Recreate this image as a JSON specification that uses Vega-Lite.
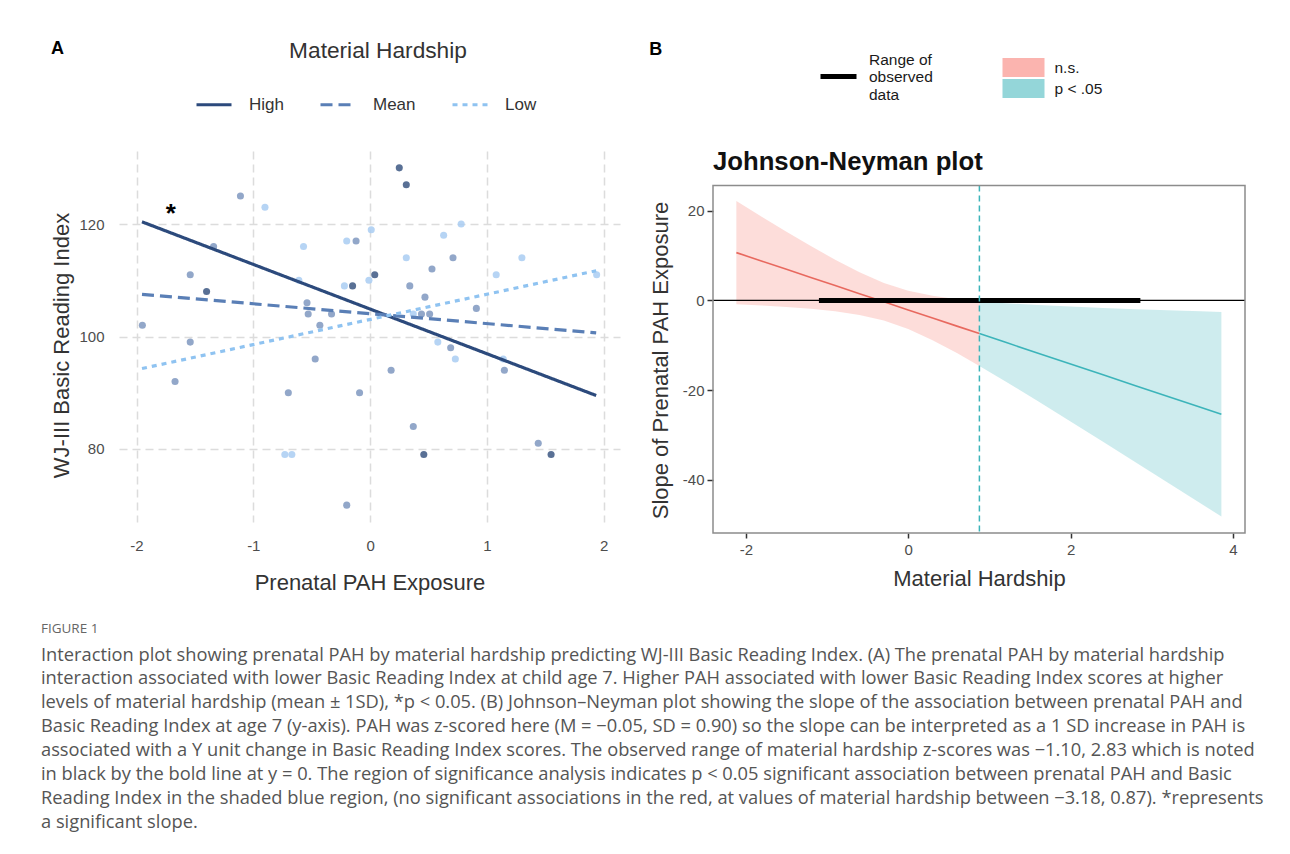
{
  "$schema": "https://vega.github.io/schema/vega-lite/v6.json",
  "background": "white",
  "padding": {"top": 40, "left": 40, "right": 0, "bottom": 0},
  "config": {
    "font": "Liberation Sans",
    "view": {"stroke": null},
    "axis": {"labelFont": "Liberation Sans", "titleFont": "Liberation Sans", "labelColor": "#4d4d4d", "titleColor": "#333333", "labelFontSize": 15, "titleFontSize": 22, "titleFontWeight": "normal"},
    "legend": {"labelFont": "Liberation Sans", "titleFont": "Liberation Sans"}
  },
  "spacing": 29,
  "resolve": {
    "scale": {"color": "independent", "fill": "independent", "stroke": "independent", "strokeDash": "independent"},
    "legend": {"color": "independent", "fill": "independent", "stroke": "independent", "strokeDash": "independent"}
  },
  "title": {
    "text": "FIGURE 1",
    "subtitle": [
      "Interaction plot showing prenatal PAH by material hardship predicting WJ-III Basic Reading Index. (A) The prenatal PAH by material hardship",
      "interaction associated with lower Basic Reading Index at child age 7. Higher PAH associated with lower Basic Reading Index scores at higher",
      "levels of material hardship (mean ± 1SD), *p < 0.05. (B) Johnson–Neyman plot showing the slope of the association between prenatal PAH and",
      "Basic Reading Index at age 7 (y-axis). PAH was z-scored here (M = −0.05, SD = 0.90) so the slope can be interpreted as a 1 SD increase in PAH is",
      "associated with a Y unit change in Basic Reading Index scores. The observed range of material hardship z-scores was −1.10, 2.83 which is noted",
      "in black by the bold line at y = 0. The region of significance analysis indicates p < 0.05 significant association between prenatal PAH and Basic",
      "Reading Index in the shaded blue region, (no significant associations in the red, at values of material hardship between −3.18, 0.87). *represents",
      "a significant slope."
    ],
    "orient": "bottom",
    "anchor": "start",
    "offset": 29,
    "dx": -10,
    "font": "Open Sans",
    "fontSize": 13.5,
    "fontWeight": "normal",
    "color": "#666666",
    "subtitleFont": "Open Sans",
    "subtitleFontSize": 18.3,
    "subtitleColor": "#555555",
    "subtitleLineHeight": 23.9,
    "subtitlePadding": 11
  },
  "datasets": {
    "pointsA": [
      {"x": 0.25, "y": 130, "g": "High"}, {"x": 0.31, "y": 127, "g": "High"}, {"x": -1.11, "y": 125, "g": "Mean"},
      {"x": -0.90, "y": 123, "g": "Low"}, {"x": 0.01, "y": 119, "g": "Low"}, {"x": 0.78, "y": 120, "g": "Low"},
      {"x": 0.63, "y": 118, "g": "Low"}, {"x": -0.20, "y": 117, "g": "Low"}, {"x": -0.12, "y": 117, "g": "Mean"},
      {"x": -1.34, "y": 116, "g": "Mean"}, {"x": -0.57, "y": 116, "g": "Low"}, {"x": 0.31, "y": 114, "g": "Low"},
      {"x": 0.71, "y": 114, "g": "Mean"}, {"x": 1.30, "y": 114, "g": "Low"}, {"x": 0.53, "y": 112, "g": "Mean"},
      {"x": -1.54, "y": 111, "g": "Mean"}, {"x": 0.04, "y": 111, "g": "High"}, {"x": 1.08, "y": 111, "g": "Low"},
      {"x": 1.94, "y": 111, "g": "Low"}, {"x": -0.01, "y": 110, "g": "Low"}, {"x": -0.61, "y": 110, "g": "Low"},
      {"x": -0.22, "y": 109, "g": "Low"}, {"x": -0.15, "y": 109, "g": "High"}, {"x": 0.34, "y": 109, "g": "Mean"},
      {"x": -1.40, "y": 108, "g": "High"}, {"x": 0.47, "y": 107, "g": "Mean"}, {"x": -0.54, "y": 106, "g": "Mean"},
      {"x": 0.91, "y": 105, "g": "Mean"}, {"x": -0.53, "y": 104, "g": "Mean"}, {"x": -0.33, "y": 104, "g": "Mean"},
      {"x": 0.37, "y": 104, "g": "Low"}, {"x": 0.44, "y": 104, "g": "Mean"}, {"x": 0.51, "y": 104, "g": "Mean"},
      {"x": -1.95, "y": 102, "g": "Mean"}, {"x": -0.43, "y": 102, "g": "Mean"}, {"x": -1.54, "y": 99, "g": "Mean"},
      {"x": 0.58, "y": 99, "g": "Low"}, {"x": 0.69, "y": 98, "g": "Mean"}, {"x": -0.47, "y": 96, "g": "Mean"},
      {"x": 0.73, "y": 96, "g": "Low"}, {"x": 1.14, "y": 96, "g": "Low"}, {"x": 0.18, "y": 94, "g": "Mean"},
      {"x": 1.15, "y": 94, "g": "Mean"}, {"x": -1.67, "y": 92, "g": "Mean"}, {"x": -0.70, "y": 90, "g": "Mean"},
      {"x": -0.09, "y": 90, "g": "Mean"}, {"x": 0.37, "y": 84, "g": "Mean"}, {"x": 1.44, "y": 81, "g": "Mean"},
      {"x": -0.73, "y": 79, "g": "Low"}, {"x": -0.67, "y": 79, "g": "Low"}, {"x": 0.46, "y": 79, "g": "High"},
      {"x": 1.55, "y": 79, "g": "High"}, {"x": -0.20, "y": 70, "g": "Mean"}
    ],
    "linesA": [
      {"x": -1.953, "y": 120.4, "g": "High"}, {"x": 1.936, "y": 89.5, "g": "High"},
      {"x": -1.953, "y": 107.5, "g": "Mean"}, {"x": 1.936, "y": 100.65, "g": "Mean"},
      {"x": -1.953, "y": 94.3, "g": "Low"}, {"x": 1.936, "y": 111.7, "g": "Low"}
    ],
    "jn": [
      {"x": -2.117, "est": 10.65, "lo": -0.85, "hi": 22.15, "sig": "n.s."},
      {"x": -1.8, "est": 8.74, "lo": -1.14, "hi": 18.62, "sig": "n.s."},
      {"x": -1.5, "est": 6.93, "lo": -1.47, "hi": 15.33, "sig": "n.s."},
      {"x": -1.2, "est": 5.12, "lo": -1.88, "hi": 12.12, "sig": "n.s."},
      {"x": -0.9, "est": 3.31, "lo": -2.44, "hi": 9.06, "sig": "n.s."},
      {"x": -0.6, "est": 1.50, "lo": -3.25, "hi": 6.25, "sig": "n.s."},
      {"x": -0.3, "est": -0.31, "lo": -4.51, "hi": 3.89, "sig": "n.s."},
      {"x": 0.0, "est": -2.12, "lo": -6.39, "hi": 2.15, "sig": "n.s."},
      {"x": 0.3, "est": -3.93, "lo": -8.87, "hi": 1.01, "sig": "n.s."},
      {"x": 0.6, "est": -5.74, "lo": -11.75, "hi": 0.27, "sig": "n.s."},
      {"x": 0.877, "est": -7.41, "lo": -14.61, "hi": -0.21, "sig": "n.s."},
      {"x": 0.877, "est": -7.41, "lo": -14.61, "hi": -0.21, "sig": "p < .05"},
      {"x": 1.2, "est": -9.36, "lo": -18.08, "hi": -0.64, "sig": "p < .05"},
      {"x": 1.6, "est": -11.77, "lo": -22.50, "hi": -1.05, "sig": "p < .05"},
      {"x": 2.0, "est": -14.19, "lo": -26.99, "hi": -1.39, "sig": "p < .05"},
      {"x": 2.4, "est": -16.60, "lo": -31.52, "hi": -1.68, "sig": "p < .05"},
      {"x": 2.8, "est": -19.01, "lo": -36.07, "hi": -1.95, "sig": "p < .05"},
      {"x": 3.2, "est": -21.43, "lo": -40.65, "hi": -2.21, "sig": "p < .05"},
      {"x": 3.6, "est": -23.84, "lo": -45.23, "hi": -2.45, "sig": "p < .05"},
      {"x": 3.858, "est": -25.40, "lo": -48.20, "hi": -2.60, "sig": "p < .05"}
    ],
    "rangeB": [{"lo": -1.10, "hi": 2.86, "y": 0, "what": "Range of observed data"}],
    "boundB": [{"x": 0.877}]
  },
  "hconcat": [
    {
      "width": 501,
      "height": 371,
      "title": {"text": "A", "anchor": "start", "font": "Liberation Sans", "fontSize": 18, "fontWeight": "bold", "color": "#000000", "offset": -18},
      "layer": [
        {
          "data": {"name": "pointsA"},
          "mark": {"type": "circle", "size": 50, "opacity": 0.85},
          "encoding": {
            "x": {"field": "x", "type": "quantitative", "scale": {"domain": [-2.15, 2.14], "nice": false, "zero": false},
              "axis": {"values": [-2, -1, 0, 1, 2], "title": "Prenatal PAH Exposure", "domain": false, "ticks": false, "tickSize": 0, "labelPadding": 16, "titlePadding": 19, "grid": true, "gridDash": [8, 5], "gridColor": "#dcdcdc", "gridWidth": 1.5, "labelExpr": "datum.value + ''"}},
            "y": {"field": "y", "type": "quantitative", "scale": {"domain": [67, 133], "nice": false, "zero": false},
              "axis": {"values": [80, 100, 120], "title": "WJ-III Basic Reading Index", "domain": false, "ticks": false, "tickSize": 0, "labelPadding": 15, "titlePadding": 5, "grid": true, "gridDash": [8, 5], "gridColor": "#dcdcdc", "gridWidth": 1.5, "titleY": 194}},
            "fill": {"field": "g", "type": "nominal", "scale": {"domain": ["Low", "Mean", "High"], "range": ["#a9cdf2", "#7f98c0", "#3c5783"]}, "legend": null}
          }
        },
        {
          "data": {"name": "linesA"},
          "mark": {"type": "line", "strokeWidth": 3.2},
          "encoding": {
            "x": {"field": "x", "type": "quantitative"},
            "y": {"field": "y", "type": "quantitative"},
            "color": {"field": "g", "type": "nominal", "scale": {"domain": ["High", "Mean", "Low"], "range": ["#2c4a7c", "#5a7fb6", "#8fc3f1"]},
              "legend": {"title": "Material Hardship", "orient": "none", "legendX": 76, "legendY": -111, "direction": "horizontal", "columns": 3, "titleAnchor": "middle", "titleFontSize": 22.7, "titleFontWeight": "normal", "titleColor": "#333333", "titlePadding": 23, "labelFontSize": 17, "labelColor": "#333333", "labelOffset": 16, "columnPadding": 30, "symbolType": "stroke", "symbolSize": 1225, "symbolStrokeWidth": 3,
                "encode": {"title": {"update": {"dx": {"value": 12}}}}}},
            "strokeDash": {"field": "g", "type": "nominal", "scale": {"domain": ["High", "Mean", "Low"], "range": [[1, 0], [12, 6], [5, 5]]},
              "legend": {"title": "Material Hardship", "orient": "none", "legendX": 76, "legendY": -111, "direction": "horizontal", "columns": 3, "titleAnchor": "middle", "titleFontSize": 22.7, "titleFontWeight": "normal", "titleColor": "#333333", "titlePadding": 23, "labelFontSize": 17, "labelColor": "#333333", "labelOffset": 16, "columnPadding": 30, "symbolType": "stroke", "symbolSize": 1225, "symbolStrokeWidth": 3,
                "encode": {"title": {"update": {"dx": {"value": 12}}}}}}
          }
        },
        {
          "data": {"values": [{"x": -1.707, "y": 120.4, "t": "*"}]},
          "mark": {"type": "text", "fontSize": 26, "fontWeight": "bold", "baseline": "alphabetic", "align": "center", "color": "#000000"},
          "encoding": {
            "x": {"field": "x", "type": "quantitative"},
            "y": {"field": "y", "type": "quantitative"},
            "text": {"field": "t"}
          }
        }
      ]
    },
    {
      "width": 532,
      "height": 382,
      "title": {"text": "B", "anchor": "start", "font": "Liberation Sans", "fontSize": 18, "fontWeight": "bold", "color": "#000000", "offset": -2.5},
      "layer": [
        {
          "data": {"name": "jn"},
          "mark": {"type": "area", "fillOpacity": 0.25},
          "encoding": {
            "x": {"field": "x", "type": "quantitative", "scale": {"domain": [-2.405, 4.149], "nice": false, "zero": false},
              "axis": {"values": [-2, 0, 2, 4], "title": "Material Hardship", "domain": false, "ticks": true, "tickColor": "#333333", "tickWidth": 1.5, "tickSize": 5, "labelPadding": 4, "titlePadding": 11, "grid": false, "labelExpr": "datum.value + ''"}},
            "y": {"field": "lo", "type": "quantitative", "scale": {"domain": [-51.87, 33.31], "nice": false, "zero": false},
              "axis": {"values": [20, 0, -20, -40], "title": "Slope of Prenatal PAH Exposure", "domain": false, "ticks": true, "tickColor": "#333333", "tickWidth": 1.5, "tickSize": 6, "labelPadding": 3, "titlePadding": 10, "grid": false, "titleY": 209, "labelExpr": "datum.value + ''"}},
            "y2": {"field": "hi"},
            "fill": {"field": "sig", "type": "nominal", "scale": {"domain": ["n.s.", "p < .05"], "range": ["#F8766D", "#3CB4BA"]},
              "legend": {"title": null, "orient": "none", "legendX": 300, "legendY": -94, "symbolType": "M-2,-0.9L2,-0.9L2,0.9L-2,0.9Z", "symbolSize": 441, "symbolOpacity": 0.55, "symbolStrokeWidth": 0, "labelFontSize": 15.5, "labelOffset": 20.5, "rowPadding": 1, "labelColor": "#1a1a1a"}}
          }
        },
        {
          "data": {"name": "jn"},
          "transform": [{"filter": "datum.sig === 'n.s.'"}],
          "mark": {"type": "line", "color": "#E8695F", "strokeWidth": 1.6},
          "encoding": {
            "x": {"field": "x", "type": "quantitative"},
            "y": {"field": "est", "type": "quantitative"}
          }
        },
        {
          "data": {"name": "jn"},
          "transform": [{"filter": "datum.sig === 'p < .05'"}],
          "mark": {"type": "line", "color": "#3CB4BA", "strokeWidth": 1.6},
          "encoding": {
            "x": {"field": "x", "type": "quantitative"},
            "y": {"field": "est", "type": "quantitative"}
          }
        },
        {
          "data": {"values": [{"y": 0}]},
          "mark": {"type": "rule", "color": "#000000", "strokeWidth": 1.2},
          "encoding": {"y": {"field": "y", "type": "quantitative"}}
        },
        {
          "data": {"name": "rangeB"},
          "mark": {"type": "rule", "strokeWidth": 5, "strokeCap": "butt"},
          "encoding": {
            "x": {"field": "lo", "type": "quantitative"},
            "x2": {"field": "hi"},
            "y": {"field": "y", "type": "quantitative"},
            "stroke": {"field": "what", "type": "nominal", "scale": {"domain": ["Range of observed data"], "range": ["#000000"]},
              "legend": {"title": null, "orient": "none", "legendX": 105, "legendY": -95, "symbolType": "stroke", "symbolSize": 1296, "symbolStrokeWidth": 5, "labelExpr": "['Range of', 'observed', 'data']", "labelFontSize": 15.5, "labelColor": "#1a1a1a", "labelOffset": 10,
                "encode": {"labels": {"update": {"dy": {"value": -17}}}}}}
          }
        },
        {
          "data": {"name": "boundB"},
          "mark": {"type": "rule", "color": "#3CB4BA", "strokeWidth": 1.5, "strokeDash": [6, 4]},
          "encoding": {
            "x": {"field": "x", "type": "quantitative"},
            "y": {"datum": 25.6, "type": "quantitative"},
            "y2": {"datum": -51.87}
          }
        },
        {
          "data": {"values": [{}]},
          "mark": {"type": "rect", "fillOpacity": 0, "stroke": "#8c8c8c", "strokeWidth": 1.5},
          "encoding": {
            "x": {"datum": -2.405, "type": "quantitative"},
            "x2": {"datum": 4.149},
            "y": {"datum": 25.6, "type": "quantitative"},
            "y2": {"datum": -51.87}
          }
        },
        {
          "data": {"values": [{"t": "Johnson-Neyman plot"}]},
          "mark": {"type": "text", "fontSize": 25.7, "fontWeight": "bold", "align": "left", "baseline": "middle", "color": "#111111", "font": "Liberation Sans"},
          "encoding": {
            "x": {"datum": -2.405, "type": "quantitative"},
            "y": {"datum": 30.86, "type": "quantitative"},
            "text": {"field": "t"}
          }
        }
      ]
    }
  ]
}
